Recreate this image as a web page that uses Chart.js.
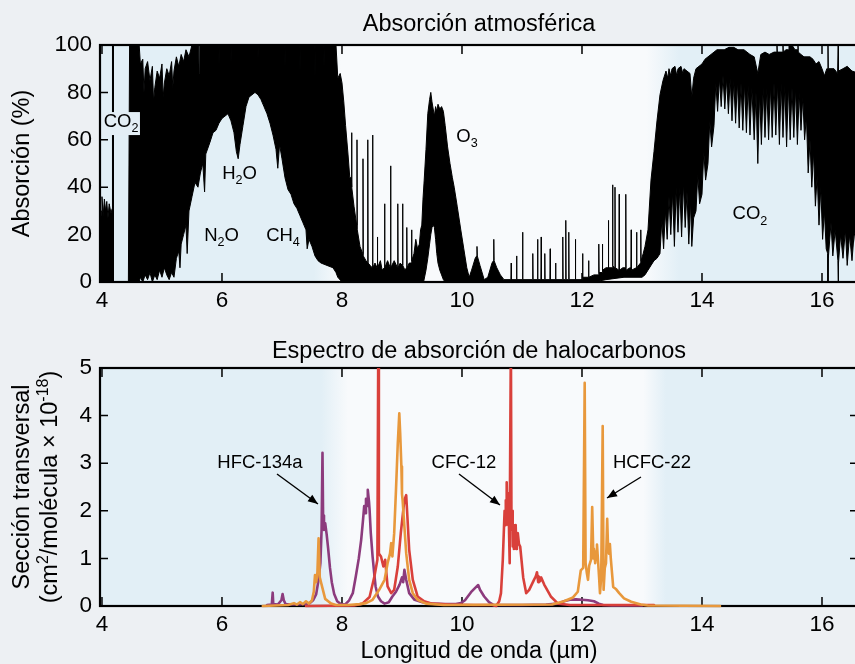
<!DOCTYPE html>
<html><head><meta charset="utf-8">
<script src="https://cdn.jsdelivr.net/npm/chart.js@4.4.1/dist/chart.umd.min.js"></script>
<style>
html,body{margin:0;padding:0;background:#edf0f3;width:855px;height:664px;overflow:hidden;}
#wrap{position:relative;width:855px;height:664px;overflow:hidden;}
canvas{position:absolute;left:0;}
#c1{top:0;width:860px;height:315px;}
#c2{top:315px;width:860px;height:349px;}
</style></head><body>
<div id="wrap"><canvas id="c1" width="860" height="315"></canvas><canvas id="c2" width="860" height="349"></canvas></div>
<script>
// ---------- DATA ----------
const xTicks = [4, 6, 8, 10, 12, 14, 16];
const absTicks = [0, 20, 40, 60, 80, 100];
const crossTicks = [0, 1, 2, 3, 4, 5];

// Atmospheric absorption (%) — upper envelope of the dense line spectrum
const absUpper = [[3.97,22],[3.99,30],[4.00,36],[4.02,28],[4.04,35],[4.06,30],[4.08,34],[4.10,27],[4.12,33],[4.15,29],[4.17,31],[4.175,100],[4.185,100],[4.19,0],[4.44,0],[4.46,100],[4.62,100],[4.64,92],[4.68,94],[4.70,80],[4.72,90],[4.76,93],[4.80,85],[4.84,91],[4.86,76],[4.88,82],[4.92,89],[4.96,86],[5.00,92],[5.02,78],[5.04,84],[5.08,90],[5.12,87],[5.16,93],[5.18,82],[5.20,89],[5.24,95],[5.28,91],[5.32,96],[5.36,93],[5.40,98],[5.45,95],[5.50,100],[5.61,100],[5.62,88],[5.63,100],[5.94,100],[5.95,91],[5.96,100],[6.14,100],[6.15,92],[6.16,100],[6.59,100],[6.60,94],[6.61,100],[7.04,100],[7.05,90],[7.06,100],[7.29,100],[7.30,88],[7.31,100],[7.54,100],[7.55,85],[7.56,100],[7.69,100],[7.70,90],[7.71,100],[7.90,100],[7.93,86],[7.97,88],[8.00,84],[8.03,76],[8.06,66],[8.10,54],[8.13,44],[8.155,44],[8.16,63],[8.165,40],[8.20,32],[8.245,24],[8.25,60],[8.255,22],[8.30,15],[8.345,12],[8.35,52],[8.355,11],[8.40,9],[8.425,8],[8.43,60],[8.435,8],[8.47,7],[8.505,6],[8.51,62],[8.515,6],[8.55,8],[8.585,6],[8.59,19],[8.595,6],[8.64,9],[8.67,5],[8.705,6],[8.71,33],[8.715,6],[8.76,9],[8.805,6],[8.81,49],[8.815,6],[8.87,9],[8.925,6],[8.93,33],[8.935,6],[8.97,8],[9.005,7],[9.01,33],[9.015,7],[9.05,5],[9.075,6],[9.08,23],[9.085,6],[9.12,8],[9.155,8],[9.16,22],[9.165,9],[9.20,12],[9.23,18],[9.26,14],[9.29,16],[9.31,22],[9.33,24],[9.35,35],[9.37,43],[9.40,56],[9.43,71],[9.46,77],[9.48,80],[9.50,76],[9.52,73],[9.54,70],[9.56,74],[9.58,72],[9.60,75],[9.63,73],[9.66,74],[9.69,72],[9.72,66],[9.76,57],[9.80,50],[9.84,44],[9.87,40],[9.92,32],[9.98,22],[10.03,14],[10.08,6],[10.12,2],[10.16,5],[10.22,10],[10.245,11],[10.25,15],[10.255,11],[10.30,7],[10.37,1],[10.43,2],[10.50,8],[10.525,9],[10.53,18],[10.535,9],[10.58,6],[10.64,3],[10.70,1],[10.815,1],[10.82,8],[10.825,1],[10.905,1],[10.91,11],[10.915,1],[11.005,1],[11.01,21],[11.015,1],[11.175,1],[11.18,12],[11.185,1],[11.255,1],[11.26,18],[11.265,1],[11.315,1],[11.32,19],[11.325,1],[11.375,1],[11.38,12],[11.385,1],[11.465,1],[11.47,14],[11.475,1],[11.555,1],[11.56,8],[11.565,1],[11.675,1],[11.68,19],[11.685,1],[11.725,1],[11.73,26],[11.735,1],[11.775,1],[11.78,21],[11.785,1],[11.885,1],[11.89,18],[11.895,1],[12.005,1],[12.01,12],[12.015,2],[12.105,2],[12.11,9],[12.115,2],[12.20,3],[12.275,3],[12.28,16],[12.285,4],[12.335,4],[12.34,16],[12.345,5],[12.40,6],[12.435,6],[12.44,26],[12.445,6],[12.505,6],[12.51,41],[12.515,7],[12.545,6],[12.55,40],[12.555,6],[12.615,5],[12.62,37],[12.625,5],[12.68,6],[12.725,6],[12.73,37],[12.735,5],[12.80,6],[12.815,6],[12.82,22],[12.825,5],[12.905,6],[12.91,21],[12.915,6],[12.975,8],[12.98,22],[12.985,9],[13.02,12],[13.05,15],[13.10,22],[13.15,43],[13.20,55],[13.25,68],[13.30,79],[13.35,85],[13.40,89],[13.43,86],[13.45,90],[13.48,87],[13.50,90],[13.55,91],[13.58,87],[13.60,90],[13.65,91],[13.68,88],[13.70,90],[13.75,89],[13.80,88],[13.83,78],[13.86,86],[13.90,90],[13.95,91],[14.00,92],[14.05,94],[14.10,95],[14.15,96],[14.20,97],[14.25,98],[14.37,98],[14.45,99],[14.53,99],[14.60,98],[14.70,98],[14.80,96],[14.87,95],[14.93,88],[14.98,96],[15.05,97],[15.12,96],[15.20,97],[15.245,97],[15.25,100],[15.255,97],[15.345,97],[15.35,100],[15.355,97],[15.40,98],[15.445,98],[15.45,100],[15.50,100],[15.55,98],[15.595,98],[15.60,100],[15.605,97],[15.65,96],[15.70,95],[15.80,95],[15.85,94],[15.90,92],[15.95,93],[16.00,90],[16.04,87],[16.08,90],[16.095,90],[16.10,100],[16.105,90],[16.20,90],[16.26,88],[16.265,88],[16.27,100],[16.275,89],[16.35,90],[16.42,91],[16.50,89],[16.62,88]];

// Atmospheric absorption (%) — lower envelope
const absLower = [[3.97,0],[4.62,0],[4.64,2],[4.68,0],[4.72,3],[4.76,1],[4.80,4],[4.84,0],[4.88,3],[4.92,1],[4.96,5],[5.00,2],[5.04,6],[5.08,3],[5.12,1],[5.16,4],[5.20,2],[5.24,10],[5.28,13],[5.30,6],[5.32,16],[5.36,20],[5.40,24],[5.42,12],[5.45,30],[5.50,36],[5.55,42],[5.60,40],[5.64,46],[5.68,50],[5.71,38],[5.73,54],[5.80,59],[5.85,63],[5.90,64],[5.95,67],[6.00,69],[6.05,70],[6.10,71],[6.15,68],[6.20,63],[6.24,55],[6.27,52],[6.30,58],[6.35,66],[6.40,74],[6.45,78],[6.50,79],[6.55,80],[6.60,79],[6.65,77],[6.70,74],[6.75,71],[6.80,67],[6.85,62],[6.90,56],[6.93,48],[6.96,58],[7.00,52],[7.05,44],[7.10,39],[7.15,37],[7.20,33],[7.25,31],[7.30,28],[7.35,25],[7.40,22],[7.42,14],[7.45,18],[7.50,15],[7.55,11],[7.60,9],[7.65,8],[7.75,7],[7.85,6],[7.90,4],[7.93,2],[8.00,0],[9.36,0],[9.40,5],[9.43,10],[9.46,16],[9.48,20],[9.50,23],[9.52,24],[9.54,23],[9.56,18],[9.58,12],[9.60,8],[9.63,5],[9.66,3],[9.69,1],[9.72,0],[12.20,0],[12.40,1],[12.70,2],[13.00,2],[13.05,3],[13.10,5],[13.15,7],[13.20,9],[13.25,10],[13.30,12],[13.33,26],[13.36,14],[13.39,30],[13.42,18],[13.45,36],[13.48,20],[13.51,38],[13.54,15],[13.57,40],[13.60,21],[13.63,40],[13.66,19],[13.69,42],[13.72,23],[13.75,38],[13.78,16],[13.81,34],[13.83,15],[13.86,27],[13.90,30],[13.93,45],[13.96,33],[14.00,37],[14.03,55],[14.06,43],[14.10,50],[14.13,68],[14.16,57],[14.20,66],[14.23,84],[14.26,72],[14.29,86],[14.32,74],[14.35,87],[14.38,73],[14.41,86],[14.44,71],[14.47,86],[14.50,68],[14.53,85],[14.56,67],[14.59,85],[14.62,65],[14.65,84],[14.68,64],[14.71,84],[14.74,63],[14.77,83],[14.80,62],[14.83,82],[14.87,60],[14.90,80],[14.93,50],[14.96,80],[14.99,58],[15.02,82],[15.05,61],[15.08,82],[15.11,60],[15.14,83],[15.17,61],[15.20,84],[15.23,62],[15.26,84],[15.29,58],[15.32,84],[15.35,61],[15.38,83],[15.41,57],[15.44,83],[15.47,60],[15.50,82],[15.53,61],[15.56,82],[15.59,58],[15.62,80],[15.65,64],[15.68,78],[15.71,60],[15.74,70],[15.77,46],[15.80,60],[15.83,40],[15.86,55],[15.89,32],[15.92,45],[15.95,24],[15.98,40],[16.01,18],[16.04,30],[16.07,14],[16.095,12],[16.10,0],[16.105,10],[16.15,25],[16.18,11],[16.22,22],[16.265,9],[16.27,0],[16.275,8],[16.31,20],[16.35,10],[16.39,22],[16.42,7],[16.46,20],[16.50,9],[16.54,22],[16.58,10],[16.62,18]];

// Halocarbon cross sections (cm2/molecule x 1e-18)
const hfc134a = [[6.75,0.02],[6.83,0.03],[6.845,0.28],[6.855,0.04],[6.93,0.03],[6.99,0.12],[7.01,0.25],[7.03,0.12],[7.06,0.04],[7.20,0.03],[7.35,0.04],[7.45,0.05],[7.52,0.12],[7.57,0.25],[7.61,0.55],[7.64,0.9],[7.66,1.6],[7.675,3.22],[7.685,1.9],[7.70,1.6],[7.72,1.74],[7.745,1.5],[7.77,1.2],[7.80,0.8],[7.83,0.5],[7.87,0.25],[7.92,0.1],[7.98,0.04],[8.05,0.03],[8.12,0.12],[8.18,0.27],[8.23,0.62],[8.28,1.0],[8.32,1.39],[8.35,1.8],[8.37,2.1],[8.39,1.95],[8.40,2.25],[8.42,2.1],[8.43,2.44],[8.45,2.2],[8.46,2.02],[8.48,1.53],[8.51,1.04],[8.54,0.65],[8.56,0.41],[8.60,0.2],[8.65,0.1],[8.71,0.05],[8.78,0.08],[8.84,0.2],[8.90,0.3],[8.96,0.45],[9.00,0.6],[9.02,0.5],[9.04,0.76],[9.07,0.55],[9.12,0.27],[9.21,0.13],[9.34,0.08],[9.50,0.05],[9.70,0.04],[9.90,0.04],[9.98,0.06],[10.05,0.12],[10.15,0.29],[10.22,0.38],[10.27,0.44],[10.30,0.34],[10.37,0.2],[10.45,0.08],[10.53,0.02],[10.70,0.02],[11.00,0.02],[11.40,0.03],[11.60,0.05],[11.70,0.1],[11.80,0.13],[11.90,0.14],[12.00,0.13],[12.10,0.12],[12.20,0.1],[12.28,0.05],[12.35,0.02],[12.50,0.01],[13.00,0.01]];
const cfc12 = [[7.40,0],[8.20,0.01],[8.34,0.05],[8.46,0.19],[8.54,0.62],[8.59,0.97],[8.605,5.6],[8.615,1.1],[8.65,1.04],[8.69,0.83],[8.72,0.97],[8.76,0.41],[8.82,0.27],[8.87,0.34],[8.93,0.83],[8.98,1.53],[9.04,2.23],[9.07,2.33],[9.09,1.88],[9.12,1.18],[9.18,0.55],[9.26,0.2],[9.37,0.1],[9.50,0.05],[9.80,0.03],[10.20,0.02],[10.50,0.02],[10.57,0.0],[10.62,0.1],[10.65,0.27],[10.68,0.97],[10.70,1.66],[10.71,2.0],[10.72,1.7],[10.73,2.22],[10.74,1.9],[10.745,2.6],[10.755,1.8],[10.76,2.1],[10.77,1.7],[10.775,2.37],[10.785,1.5],[10.79,0.9],[10.80,1.6],[10.815,5.6],[10.825,1.6],[10.835,2.0],[10.845,1.25],[10.855,1.7],[10.865,1.2],[10.875,1.6],[10.885,1.3],[10.895,1.7],[10.905,1.2],[10.915,1.5],[10.93,1.53],[10.95,1.3],[10.97,1.25],[11.02,0.6],[11.07,0.27],[11.12,0.34],[11.20,0.55],[11.23,0.62],[11.25,0.71],[11.27,0.5],[11.28,0.62],[11.30,0.52],[11.32,0.6],[11.37,0.45],[11.48,0.2],[11.60,0.05],[11.80,0.02],[12.50,0.02],[13.20,0.02]];
const hcfc22 = [[6.68,0],[7.10,0.02],[7.20,0.06],[7.25,0.03],[7.30,0.08],[7.35,0.04],[7.40,0.1],[7.45,0.05],[7.50,0.12],[7.53,0.3],[7.55,0.65],[7.57,0.5],[7.59,0.7],[7.61,1.42],[7.63,0.6],[7.65,0.5],[7.68,0.35],[7.72,0.15],[7.77,0.1],[7.82,0.05],[7.90,0.02],[8.10,0.02],[8.30,0.04],[8.40,0.06],[8.51,0.13],[8.62,0.34],[8.71,0.55],[8.76,0.9],[8.80,1.1],[8.82,1.32],[8.84,1.04],[8.87,1.53],[8.90,2.44],[8.93,3.42],[8.955,4.05],[8.97,3.63],[8.99,2.93],[9.00,2.35],[9.01,2.23],[9.04,1.67],[9.07,1.11],[9.12,0.55],[9.18,0.27],[9.26,0.13],[9.40,0.05],[9.70,0.02],[11.50,0.03],[11.70,0.1],[11.85,0.18],[11.93,0.3],[11.98,0.75],[12.02,0.8],[12.045,4.69],[12.06,0.9],[12.08,0.7],[12.10,0.55],[12.12,0.85],[12.15,0.97],[12.17,2.08],[12.19,1.0],[12.20,1.2],[12.22,0.9],[12.235,1.15],[12.25,1.29],[12.27,0.9],[12.285,0.6],[12.30,0.27],[12.32,0.6],[12.345,3.78],[12.36,0.34],[12.38,0.8],[12.40,0.9],[12.42,1.83],[12.435,1.2],[12.45,1.1],[12.465,1.3],[12.48,1.0],[12.50,0.7],[12.52,0.4],[12.57,0.35],[12.62,0.27],[12.70,0.16],[12.82,0.09],[12.98,0.03],[13.10,0.01],[14.30,0.0]];

// ---------- STYLE ----------
const FONT = "'Liberation Sans', Arial, Helvetica, sans-serif";
const OUTER = '#edf0f3', BLUE = '#e2eff6', WHITE = '#f8fafc';
Chart.defaults.font.family = FONT;
const pts = arr => arr.map(([x, y]) => ({x, y}));

function rich(ctx, runs, x, y, size, align) {
  let w = 0;
  const parts = runs.map(([t, k]) => {
    const s = k ? size * 0.68 : size;
    ctx.font = s + 'px ' + FONT;
    const m = ctx.measureText(t).width; w += m;
    return {t, s, m, dy: k === 1 ? size * 0.28 : (k === 2 ? -size * 0.4 : 0)};
  });
  let cx = align === 'left' ? x : x - w / 2;
  ctx.textAlign = 'left'; ctx.textBaseline = 'alphabetic';
  for (const p of parts) { ctx.font = p.s + 'px ' + FONT; ctx.fillText(p.t, cx, y + p.dy); cx += p.m; }
}
function arrow(ctx, x1, y1, x2, y2) {
  ctx.beginPath(); ctx.moveTo(x1, y1); ctx.lineTo(x2, y2); ctx.stroke();
  const a = Math.atan2(y2 - y1, x2 - x1), L = 10, W = 4;
  ctx.beginPath(); ctx.moveTo(x2, y2);
  ctx.lineTo(x2 - L * Math.cos(a) + W * Math.sin(a), y2 - L * Math.sin(a) - W * Math.cos(a));
  ctx.lineTo(x2 - L * Math.cos(a) - W * Math.sin(a), y2 - L * Math.sin(a) + W * Math.cos(a));
  ctx.closePath(); ctx.fill();
}

const framePlugin = {
  id: 'frame',
  beforeDraw(chart, args, opts) {
    const {ctx, chartArea: a, scales: {x}} = chart;
    ctx.save();
    ctx.fillStyle = OUTER; ctx.fillRect(0, 0, chart.width, chart.height);
    const w = a.right - a.left;
    const f = v => Math.min(1, Math.max(0, (x.getPixelForValue(v) - a.left) / w));
    const g = ctx.createLinearGradient(a.left, 0, a.right, 0);
    const e = opts.edges;
    g.addColorStop(0, BLUE); g.addColorStop(f(e[0]), BLUE); g.addColorStop(f(e[1]), WHITE);
    g.addColorStop(f(e[2]), WHITE); g.addColorStop(f(e[3]), BLUE); g.addColorStop(1, BLUE);
    ctx.fillStyle = g; ctx.fillRect(a.left, a.top, w, a.bottom - a.top);
    ctx.restore();
  },
  beforeDatasetsDraw(chart) {
    const {ctx, chartArea: a, scales: {x, y}} = chart;
    ctx.save();
    ctx.strokeStyle = '#000'; ctx.lineWidth = 2.2;
    ctx.strokeRect(a.left, a.top, a.right - a.left, a.bottom - a.top);
    ctx.lineWidth = 1.5;
    ctx.beginPath();
    for (const t of x.ticks) {
      const px = x.getPixelForValue(t.value);
      ctx.moveTo(px, a.bottom); ctx.lineTo(px, a.bottom - 9);
      ctx.moveTo(px, a.top); ctx.lineTo(px, a.top + 9);
    }
    for (const t of y.ticks) {
      const py = y.getPixelForValue(t.value);
      ctx.moveTo(a.left, py); ctx.lineTo(a.left + 8, py);
      ctx.moveTo(a.right, py); ctx.lineTo(a.right - 8, py);
    }
    ctx.stroke();
    ctx.restore();
  }
};

function xScale(h) {
  return {
    type: 'linear', min: 3.967, max: 16.6,
    afterBuildTicks: s => { s.ticks = xTicks.map(v => ({value: v})); },
    afterFit: s => { s.height = h; },
    ticks: {font: {size: 22.5, family: FONT}, color: '#000', padding: 5, maxRotation: 0, autoSkip: false},
    grid: {display: false, drawTicks: false}, border: {display: false}
  };
}
function yScale(max, list) {
  return {
    type: 'linear', min: 0, max: max,
    afterBuildTicks: s => { s.ticks = list.map(v => ({value: v})); },
    afterFit: s => { s.width = 100; },
    ticks: {font: {size: 22.5, family: FONT}, color: '#000', padding: 8, autoSkip: false},
    grid: {display: false, drawTicks: false}, border: {display: false}
  };
}

// ---------- CHART 1: atmospheric absorption ----------
const textPlugin1 = {
  id: 'text1',
  afterDatasetsDraw(chart) {
    const {ctx, scales: {x, y}} = chart;
    const X = v => x.getPixelForValue(v), Y = v => y.getPixelForValue(v);
    ctx.save();
    ctx.fillStyle = '#e3eef5';
    ctx.fillRect(X(4.0), Y(71.7), X(4.633) - X(4.0), Y(62.0) - Y(71.7));
    ctx.fillStyle = '#000';
    const s = 18.5;
    rich(ctx, [['CO'], ['2', 1]], X(4.317), Y(65.4), s);
    rich(ctx, [['H'], ['2', 1], ['O']], X(6.292), Y(43.5), s);
    rich(ctx, [['N'], ['2', 1], ['O']], X(5.992), Y(17.5), s);
    rich(ctx, [['CH'], ['4', 1]], X(7.017), Y(17.5), s);
    rich(ctx, [['O'], ['3', 1]], X(10.083), Y(59.1), s);
    rich(ctx, [['CO'], ['2', 1]], X(14.8), Y(26.4), s);
    ctx.restore();
  },
  afterDraw(chart) {
    const {ctx, chartArea: a} = chart;
    ctx.save(); ctx.fillStyle = '#000';
    rich(ctx, [['Absorción atmosférica']], (a.left + a.right) / 2, 31, 23.5);
    ctx.translate(29, (a.top + a.bottom) / 2); ctx.rotate(-Math.PI / 2);
    rich(ctx, [['Absorción (%)']], 0, 0, 23.5);
    ctx.restore();
  }
};

new Chart(document.getElementById('c1'), {
  type: 'line',
  data: {datasets: [
    {label: 'lower', data: pts(absLower), borderColor: '#000', borderWidth: 1, pointRadius: 0, fill: false, tension: 0, borderJoinStyle: 'bevel'},
    {label: 'upper', data: pts(absUpper), borderColor: '#000', backgroundColor: '#000', borderWidth: 1, pointRadius: 0, fill: '-1', tension: 0, borderJoinStyle: 'bevel'}
  ]},
  options: {
    responsive: false, animation: false, events: [],
    layout: {padding: {top: 45, right: 2, left: 0, bottom: 0}},
    scales: {x: xScale(33), y: yScale(100, absTicks)},
    plugins: {legend: {display: false}, tooltip: {enabled: false}, frame: {edges: [7.53, 7.98, 13.07, 13.62]}}
  },
  plugins: [framePlugin, textPlugin1]
});

// ---------- CHART 2: halocarbon spectra ----------
const textPlugin2 = {
  id: 'text2',
  afterDatasetsDraw(chart) {
    const {ctx, scales: {x, y}} = chart;
    const X = v => x.getPixelForValue(v), Y = v => y.getPixelForValue(v);
    ctx.save(); ctx.fillStyle = '#000'; ctx.strokeStyle = '#000'; ctx.lineWidth = 1.4;
    const s = 18.5;
    rich(ctx, [['HFC-134a']], X(6.633), Y(2.90), s);
    rich(ctx, [['CFC-12']], X(10.033), Y(2.90), s);
    rich(ctx, [['HCFC-22']], X(13.167), Y(2.90), s);
    arrow(ctx, X(6.917), Y(2.773), X(7.6), Y(2.143));
    arrow(ctx, X(9.95), Y(2.773), X(10.633), Y(2.122));
    arrow(ctx, X(12.983), Y(2.71), X(12.417), Y(2.269));
    ctx.restore();
  },
  afterDraw(chart) {
    const {ctx, chartArea: a} = chart;
    ctx.save(); ctx.fillStyle = '#000';
    const cx = (a.left + a.right) / 2;
    rich(ctx, [['Espectro de absorción de halocarbonos']], cx, 43, 23.5);
    rich(ctx, [['Longitud de onda (µm)']], cx, 343, 23.5);
    const cy = (a.top + a.bottom) / 2;
    ctx.save(); ctx.translate(29, cy); ctx.rotate(-Math.PI / 2);
    rich(ctx, [['Sección transversal']], 0, 0, 23.5);
    ctx.restore();
    ctx.save(); ctx.translate(57, cy); ctx.rotate(-Math.PI / 2);
    rich(ctx, [['(cm'], ['2', 2], ['/molécula × 10'], ['-18', 2], [')']], 0, 0, 23.5);
    ctx.restore();
    ctx.restore();
  }
};

const lineDs = (label, arr, color) => ({
  label, data: pts(arr), borderColor: color, borderWidth: 2.6, pointRadius: 0, fill: false,
  tension: 0, borderJoinStyle: 'round', borderCapStyle: 'round', clip: {left: 0, top: 0, right: 0, bottom: 6}
});

new Chart(document.getElementById('c2'), {
  type: 'line',
  data: {datasets: [
    lineDs('HCFC-22', hcfc22, '#e8983c'),
    lineDs('CFC-12', cfc12, '#d9403b'),
    lineDs('HFC-134a', hfc134a, '#8c3b7d')
  ]},
  options: {
    responsive: false, animation: false, events: [],
    layout: {padding: {top: 53, right: 2, left: 0, bottom: 0}},
    scales: {x: xScale(58), y: yScale(5, crossTicks)},
    plugins: {legend: {display: false}, tooltip: {enabled: false}, frame: {edges: [7.65, 8.1, 13.02, 13.4]}}
  },
  plugins: [framePlugin, textPlugin2]
});
</script>
</body></html>
